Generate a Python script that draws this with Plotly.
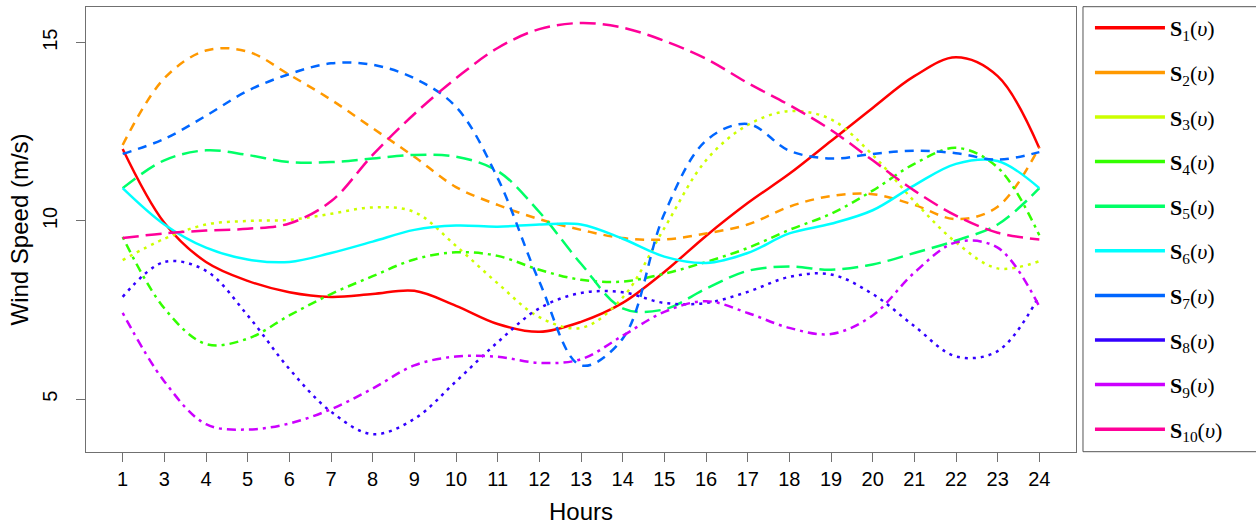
import plotly.graph_objects as go

hour_labels = ["1", "3", "4", "5", "6", "7", "8", "9", "10", "11", "12", "13",
               "14", "15", "16", "17", "18", "19", "20", "21", "22", "23", "24"]

s1 = [12.02, 9.95, 8.85, 8.32, 8.0, 7.87, 7.95, 8.04, 7.62, 7.11, 6.89, 7.17,
      7.7, 8.57, 9.58, 10.5, 11.32, 12.24, 13.17, 14.06, 14.59, 14.06, 12.04]
s2 = [12.13, 14.0, 14.78, 14.75, 14.1, 13.4, 12.6, 11.8, 10.95, 10.45, 10.05, 9.75,
      9.52, 9.48, 9.65, 9.9, 10.4, 10.7, 10.75, 10.45, 10.05, 10.4, 12.07]
s3 = [8.9, 9.5, 9.9, 10.0, 10.03, 10.2, 10.38, 10.25, 9.3, 8.25, 7.3, 7.0,
      7.85, 9.8, 11.7, 12.69, 13.08, 12.85, 11.85, 10.55, 9.4, 8.67, 8.87]
s4 = [9.55, 7.55, 6.55, 6.7, 7.35, 7.95, 8.45, 8.92, 9.12, 9.02, 8.63, 8.35,
      8.3, 8.52, 8.85, 9.24, 9.75, 10.2, 10.85, 11.6, 12.05, 11.5, 9.6]
s5 = [10.92, 11.7, 11.98, 11.85, 11.65, 11.65, 11.75, 11.85, 11.8, 11.4, 10.25, 8.8,
      7.55, 7.52, 8.1, 8.6, 8.72, 8.63, 8.78, 9.1, 9.45, 9.9, 10.92]
s6 = [10.92, 9.9, 9.25, 8.92, 8.85, 9.1, 9.42, 9.75, 9.87, 9.84, 9.9, 9.9,
      9.5, 9.0, 8.82, 9.1, 9.65, 9.92, 10.3, 11.0, 11.6, 11.68, 10.92]
s7 = [11.88, 12.3, 12.95, 13.65, 14.12, 14.42, 14.38, 14.0, 13.2, 11.2, 8.3, 5.95,
      6.7, 10.2, 12.25, 12.72, 11.97, 11.75, 11.88, 11.97, 11.9, 11.72, 11.93]
s8 = [7.87, 8.85, 8.6, 7.35, 5.85, 4.65, 4.02, 4.45, 5.5, 6.6, 7.55, 7.98,
      8.0, 7.7, 7.7, 8.01, 8.43, 8.5, 7.95, 7.05, 6.2, 6.35, 7.9]
s9 = [7.42, 5.5, 4.3, 4.15, 4.32, 4.72, 5.3, 5.95, 6.2, 6.19, 6.02, 6.12,
      6.78, 7.45, 7.75, 7.42, 7.0, 6.83, 7.35, 8.55, 9.4, 9.25, 7.6]
s10 = [9.52, 9.65, 9.73, 9.78, 9.93, 10.55, 11.85, 13.0, 14.0, 14.85, 15.38, 15.55,
       15.42, 15.05, 14.55, 13.87, 13.25, 12.55, 11.7, 10.85, 10.15, 9.67, 9.48]

series = [s1, s2, s3, s4, s5, s6, s7, s8, s9, s10]
colors = ["#FF0000", "#FF9900", "#CCFF00", "#33FF00", "#00FF66",
          "#00FFFF", "#0066FF", "#3300FF", "#CC00FF", "#FF0099"]
dashes = ["solid", "9px,7px", "3px,5px", "3px,5px,9px,5px", "16px,7px"] * 2
names = [f"<b>S</b><sub>{i}</sub>(<i>υ</i>)" for i in range(1, 11)]

fig = go.Figure()
for vals, col, dsh in zip(series, colors, dashes):
    fig.add_trace(go.Scatter(
        x=hour_labels, y=vals, mode="lines",
        line=dict(color=col, width=2.5, dash=dsh, shape="spline", smoothing=1.0),
        showlegend=False, hoverinfo="skip"))
for i, (nm, col) in enumerate(zip(names, colors)):
    fig.add_trace(go.Scatter(
        x=[None], y=[None], mode="lines", name=nm, legendgroup=f"g{i}",
        line=dict(color=col, width=3.5)))

axis_col = "#707070"
fig.update_layout(
    width=1256, height=527,
    margin=dict(l=86, r=180, t=7, b=75, autoexpand=False),
    paper_bgcolor="white", plot_bgcolor="white",
    font=dict(family="Liberation Sans, Arial, sans-serif", size=20, color="black"),
    xaxis=dict(type="category", range=[-0.88, 22.88],
               tickmode="array", tickvals=hour_labels, ticktext=hour_labels,
               showgrid=False, zeroline=False, automargin=False,
               showline=True, mirror=True, linecolor=axis_col, linewidth=1,
               ticks="outside", ticklen=9, tickcolor=axis_col,
               title=dict(text="Hours", standoff=14)),
    yaxis=dict(range=[3.52, 16.0], tickvals=[5, 10, 15],
               showgrid=False, zeroline=False, automargin=False,
               showline=True, mirror=True, linecolor=axis_col, linewidth=1,
               ticks="outside", ticklen=9, tickcolor=axis_col, tickangle=-90,
               ticklabelstandoff=11,
               title=dict(text="Wind Speed (m/s)", standoff=3)),
    legend=dict(x=1.0141, xanchor="left", y=1.0, yanchor="top",
                borderwidth=0, bgcolor="rgba(0,0,0,0)",
                font=dict(family="Liberation Serif, serif", size=22, color="black"),
                itemwidth=70, tracegroupgap=13, entrywidth=150, maxheight=520),
    shapes=[dict(type="rect", xref="paper", yref="paper",
                 x0=1.00707, x1=1.19, y0=0.0007, y1=1.0007,
                 line=dict(color="#555555", width=1), fillcolor="rgba(0,0,0,0)",
                 layer="below")],
)

fig.write_html("out.html", config={"displayModeBar": False},
               post_script="document.body.style.margin='0';")
